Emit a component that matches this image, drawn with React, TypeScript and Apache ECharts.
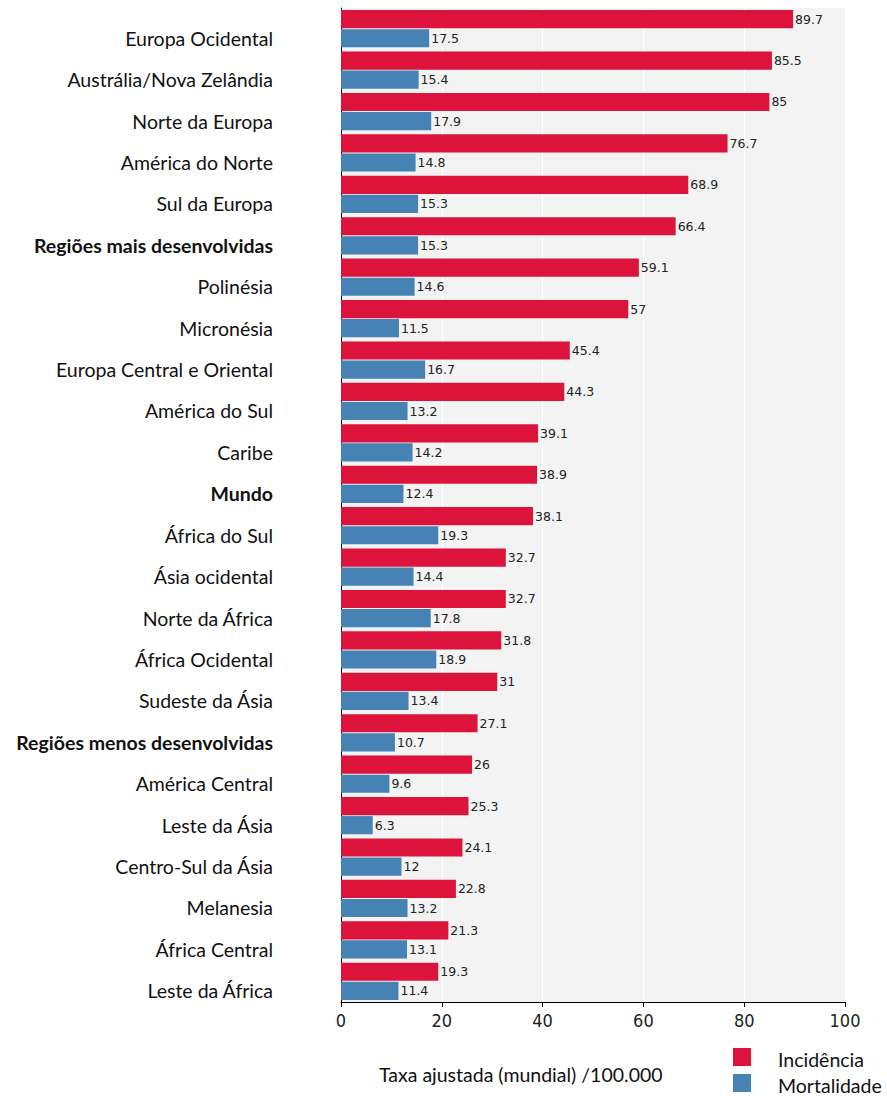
import React, { useEffect, useRef } from "react";
import * as echarts from "echarts";

const categories = [
  "Europa Ocidental",
  "Austrália/Nova Zelândia",
  "Norte da Europa",
  "América do Norte",
  "Sul da Europa",
  "Regiões mais desenvolvidas",
  "Polinésia",
  "Micronésia",
  "Europa Central e Oriental",
  "América do Sul",
  "Caribe",
  "Mundo",
  "África do Sul",
  "Ásia ocidental",
  "Norte da África",
  "África Ocidental",
  "Sudeste da Ásia",
  "Regiões menos desenvolvidas",
  "América Central",
  "Leste da Ásia",
  "Centro-Sul da Ásia",
  "Melanesia",
  "África Central",
  "Leste da África",
];

const boldCategories = ["Regiões mais desenvolvidas", "Mundo", "Regiões menos desenvolvidas"];

const incidencia = [
  89.7, 85.5, 85, 76.7, 68.9, 66.4, 59.1, 57, 45.4, 44.3, 39.1, 38.9, 38.1, 32.7, 32.7, 31.8, 31, 27.1,
  26, 25.3, 24.1, 22.8, 21.3, 19.3,
];

const mortalidade = [
  17.5, 15.4, 17.9, 14.8, 15.3, 15.3, 14.6, 11.5, 16.7, 13.2, 14.2, 12.4, 19.3, 14.4, 17.8, 18.9, 13.4,
  10.7, 9.6, 6.3, 12, 13.2, 13.1, 11.4,
];

const seriesNames = ["Incidência", "Mortalidade"];
const seriesColors = ["#dc143c", "#4682b4"];
const axisTitle = "Taxa ajustada (mundial) /100.000";

const labelFont = "Lato, 'Noto Sans', sans-serif";

export default function App() {
  const ref = useRef<HTMLDivElement>(null);

  useEffect(() => {
    if (!ref.current) return;
    const chart = echarts.init(ref.current, undefined, { renderer: "svg" });
    const valueLabel = {
      show: true,
      position: "right" as const,
      distance: 2,
      color: "#222",
      fontFamily: "'DejaVu Sans', sans-serif",
      fontSize: 12.5,
    };
    const legendGraphics = seriesNames.flatMap((name, i) => [
      {
        type: "rect",
        shape: { x: 733, y: 1048 + i * 26, width: 18, height: 18 },
        style: { fill: seriesColors[i] },
      },
      {
        type: "text",
        x: 778,
        y: 1059 + i * 26,
        style: {
          text: name,
          fontFamily: labelFont,
          fontSize: 19.5,
          fill: "#111",
          verticalAlign: "middle",
        },
      },
    ]);
    chart.setOption({
      animation: false,
      backgroundColor: "#ffffff",
      grid: {
        left: 341,
        right: 42,
        top: 8,
        bottom: 94,
        show: true,
        backgroundColor: "#f3f3f3",
        borderWidth: 0,
        containLabel: false,
      },
      xAxis: {
        type: "value",
        min: 0,
        max: 100,
        interval: 20,
        axisLine: { show: true, lineStyle: { color: "#000", width: 1 } },
        axisTick: { show: true, length: 5, lineStyle: { color: "#000" } },
        axisLabel: {
          color: "#222",
          fontFamily: "'DejaVu Sans Condensed', 'Liberation Sans Narrow', 'Liberation Sans', sans-serif",
          fontSize: 18,
          margin: 9,
        },
        splitLine: { show: true, lineStyle: { color: "#ffffff", width: 1 } },
      },
      yAxis: {
        type: "category",
        data: categories,
        inverse: true,
        axisLine: { show: true, lineStyle: { color: "#000", width: 1 } },
        axisTick: { show: false },
        axisLabel: {
          margin: 68,
          formatter: (v: string) => (boldCategories.includes(v) ? `{b|${v}}` : `{n|${v}}`),
          rich: {
            n: { fontFamily: labelFont, fontSize: 19.5, color: "#111", padding: [19, 0, 0, 0] },
            b: {
              fontFamily: labelFont,
              fontSize: 19.5,
              color: "#111",
              fontWeight: "bold",
              padding: [19, 0, 0, 0],
            },
          },
        },
      },
      series: [
        {
          name: seriesNames[0],
          type: "bar",
          data: incidencia,
          itemStyle: { color: seriesColors[0] },
          barGap: "5%",
          barCategoryGap: "10%",
          label: valueLabel,
        },
        {
          name: seriesNames[1],
          type: "bar",
          data: mortalidade,
          itemStyle: { color: seriesColors[1] },
          barGap: "5%",
          barCategoryGap: "10%",
          label: valueLabel,
        },
      ],
      graphic: [
        {
          type: "text",
          left: 379,
          top: 1064,
          style: {
            text: axisTitle,
            fontFamily: labelFont,
            fontSize: 19.5,
            fill: "#111",
          },
        },
        ...legendGraphics,
      ],
    });
    return () => chart.dispose();
  }, []);

  return (
    <div
      ref={ref}
      style={{ position: "fixed", left: 0, top: 0, width: 887, height: 1096, margin: 0 }}
    />
  );
}
